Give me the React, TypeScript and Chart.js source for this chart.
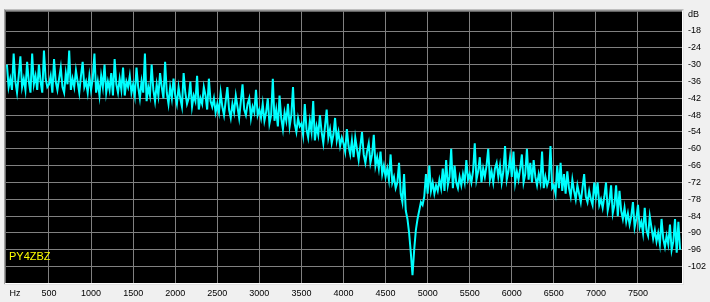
import React, { useEffect, useRef } from 'react';
import { Chart, registerables } from 'chart.js';

Chart.register(...registerables);

// Spectrum levels in dB, one value every 20 Hz, grouped per 500 Hz block
const STEP_HZ = 20;
const levels0000 = [-30, -38, -35, -39, -26, -36, -40, -34, -27, -38, -35, -39, -29, -36, -40, -26, -37, -34, -39, -30, -36, -40, -25, -35, -38];
const levels0500 = [-37, -34, -40, -28, -36, -39, -35, -31, -38, -40, -33, -37, -25, -39, -35, -38, -32, -36, -40, -34, -29, -38, -36, -40, -34];
const levels1000 = [-39, -35, -26, -40, -36, -41, -34, -38, -30, -40, -36, -39, -33, -41, -28, -37, -40, -35, -39, -31, -41, -36, -38, -34, -40];
const levels1500 = [-37, -41, -31, -38, -42, -36, -40, -26, -43, -38, -41, -30, -39, -43, -37, -41, -33, -38, -42, -29, -40, -44, -38, -42, -35];
const levels2000 = [-41, -44, -38, -42, -45, -33, -40, -44, -42, -36, -45, -41, -43, -34, -46, -42, -44, -38, -41, -46, -35, -43, -45, -42, -47];
const levels2500 = [-44, -47, -40, -45, -48, -43, -38, -46, -49, -44, -47, -41, -45, -49, -43, -37, -46, -48, -44, -42, -49, -45, -47, -39, -48];
const levels3000 = [-46, -49, -44, -50, -47, -42, -51, -48, -35, -50, -46, -52, -41, -49, -53, -47, -50, -44, -52, -48, -38, -51, -54, -49, -52];
const levels3500 = [-51, -55, -44, -53, -56, -50, -54, -43, -57, -52, -55, -48, -54, -58, -52, -46, -56, -53, -58, -55, -49, -57, -54, -59, -56];
const levels4000 = [-58, -61, -53, -59, -62, -57, -63, -56, -60, -64, -59, -54, -62, -65, -61, -58, -65, -62, -55, -66, -63, -67, -61, -69, -66];
const levels4500 = [-70, -67, -71, -62, -72, -70, -74, -72, -65, -76, -79, -69, -82, -85, -90, -97, -105, -96, -89, -85, -82, -79, -80, -77, -69];
const levels5000 = [-76, -66, -75, -72, -76, -73, -75, -71, -74, -67, -75, -64, -73, -70, -60, -74, -66, -72, -74, -70, -73, -69, -72, -64, -71];
const levels5500 = [-69, -72, -68, -58, -71, -68, -63, -72, -67, -70, -66, -60, -71, -68, -72, -67, -65, -70, -66, -72, -68, -59, -71, -68, -63];
const levels6000 = [-70, -61, -72, -68, -71, -67, -62, -72, -69, -60, -71, -65, -72, -64, -70, -73, -69, -72, -61, -74, -70, -73, -71, -59, -74];
const levels6500 = [-73, -76, -66, -74, -65, -75, -69, -76, -68, -74, -77, -71, -75, -78, -73, -76, -79, -74, -69, -77, -79, -75, -78, -80, -72];
const levels7000 = [-77, -72, -80, -78, -81, -77, -72, -82, -79, -73, -83, -80, -73, -84, -75, -82, -85, -81, -86, -83, -87, -84, -79, -88, -85];
const levels7500 = [-80, -88, -86, -90, -81, -89, -91, -84, -88, -92, -89, -93, -90, -94, -85, -92, -95, -91, -94, -87, -96, -93, -85, -97, -86];
const levels8000 = [-96];

const xTickValues = [500, 1000, 1500, 2000, 2500, 3000, 3500, 4000, 4500, 5000, 5500, 6000, 6500, 7000, 7500];
const yTickValues = [-102, -96, -90, -84, -78, -72, -66, -60, -54, -48, -42, -36, -30, -24, -18];
const HZ_TICK = 95;
const DB_TICK = -12;
const xUnit = 'Hz';
const yUnit = 'dB';
const callsign = 'PY4ZBZ';

export default function App() {
  const ref = useRef<HTMLCanvasElement>(null);

  useEffect(() => {
    const all = [
      ...levels0000, ...levels0500, ...levels1000, ...levels1500,
      ...levels2000, ...levels2500, ...levels3000, ...levels3500,
      ...levels4000, ...levels4500, ...levels5000, ...levels5500,
      ...levels6000, ...levels6500, ...levels7000, ...levels7500, ...levels8000,
    ];
    const points = all.map((v, i) => ({ x: i * STEP_HZ, y: v }));

    const scopePlugin = {
      id: 'scopeFrame',
      beforeDraw(chart: any) {
        const { ctx, chartArea: a } = chart;
        ctx.save();
        ctx.fillStyle = '#f0f0f0';
        ctx.fillRect(0, 0, chart.width, chart.height);
        ctx.fillStyle = '#000000';
        ctx.fillRect(a.left, a.top, a.right - a.left, a.bottom - a.top);
        const w = a.right - a.left;
        const h = a.bottom - a.top;
        ctx.fillStyle = '#a0a0a0';
        ctx.fillRect(a.left - 2, a.top - 2, w + 4, 1);
        ctx.fillRect(a.left - 2, a.top - 2, 1, h + 4);
        ctx.fillStyle = '#696969';
        ctx.fillRect(a.left - 1, a.top - 1, w + 2, 1);
        ctx.fillRect(a.left - 1, a.top - 1, 1, h + 2);
        ctx.fillStyle = '#ffffff';
        ctx.fillRect(a.right, a.top - 1, 1, h + 2);
        ctx.fillRect(a.left - 1, a.bottom, w + 2, 1);
        ctx.fillStyle = '#e3e3e3';
        ctx.fillRect(a.right + 1, a.top - 2, 1, h + 4);
        ctx.fillRect(a.left - 2, a.bottom + 1, w + 4, 1);
        ctx.restore();
      },
      afterDatasetsDraw(chart: any) {
        const { ctx, chartArea: a } = chart;
        ctx.save();
        ctx.fillStyle = '#ffff00';
        ctx.font = '11px "Liberation Sans", Arial, sans-serif';
        ctx.textBaseline = 'middle';
        ctx.textAlign = 'left';
        ctx.fillText(callsign, a.left + 3, 257);
        ctx.restore();
      },
    };

    const tickFont = { family: '"Liberation Sans", Arial, sans-serif', size: 9 };

    const chart = new Chart(ref.current as HTMLCanvasElement, {
      type: 'line',
      data: {
        datasets: [
          {
            data: points,
            borderColor: '#00ffff',
            borderWidth: 2,
            borderJoinStyle: 'miter',
            pointRadius: 0,
            tension: 0,
            fill: false,
          },
        ],
      },
      options: {
        animation: false,
        responsive: false,
        devicePixelRatio: 1,
        layout: { padding: { left: 6, top: 6, right: 0, bottom: 0 } },
        plugins: { legend: { display: false }, tooltip: { enabled: false } },
        scales: {
          x: {
            type: 'linear',
            position: 'bottom',
            min: -11,
            max: 8023,
            afterBuildTicks: (scale: any) => {
              scale.ticks = [HZ_TICK, ...xTickValues].map((v) => ({ value: v }));
            },
            afterFit: (scale: any) => {
              scale.height = 19;
            },
            border: { display: false },
            grid: {
              drawTicks: false,
              lineWidth: 1,
              color: (c: any) => (c.tick && c.tick.value === HZ_TICK ? 'rgba(0,0,0,0)' : '#808080'),
            },
            ticks: {
              autoSkip: false,
              maxRotation: 0,
              padding: 5,
              color: '#000000',
              font: tickFont,
              callback: (v: any) => (v === HZ_TICK ? xUnit : String(v)),
            },
          },
          y: {
            type: 'linear',
            position: 'right',
            min: -107.83,
            max: -11.01,
            afterBuildTicks: (scale: any) => {
              scale.ticks = [...yTickValues, DB_TICK].map((v) => ({ value: v }));
            },
            afterFit: (scale: any) => {
              scale.width = 28;
            },
            border: { display: false },
            grid: {
              drawTicks: false,
              lineWidth: 1,
              color: (c: any) => (c.tick && c.tick.value === DB_TICK ? 'rgba(0,0,0,0)' : '#808080'),
            },
            ticks: {
              autoSkip: false,
              padding: 6,
              color: '#000000',
              font: tickFont,
              crossAlign: 'near',
              callback: (v: any) => (v === DB_TICK ? yUnit : String(v)),
            },
          },
        },
      },
      plugins: [scopePlugin],
    } as any);

    return () => chart.destroy();
  }, []);

  return (
    <div style={{ position: 'absolute', left: 0, top: 0, width: 710, height: 302, background: '#f0f0f0' }}>
      <canvas ref={ref} width={710} height={302} style={{ display: 'block', width: 710, height: 302 }} />
    </div>
  );
}
